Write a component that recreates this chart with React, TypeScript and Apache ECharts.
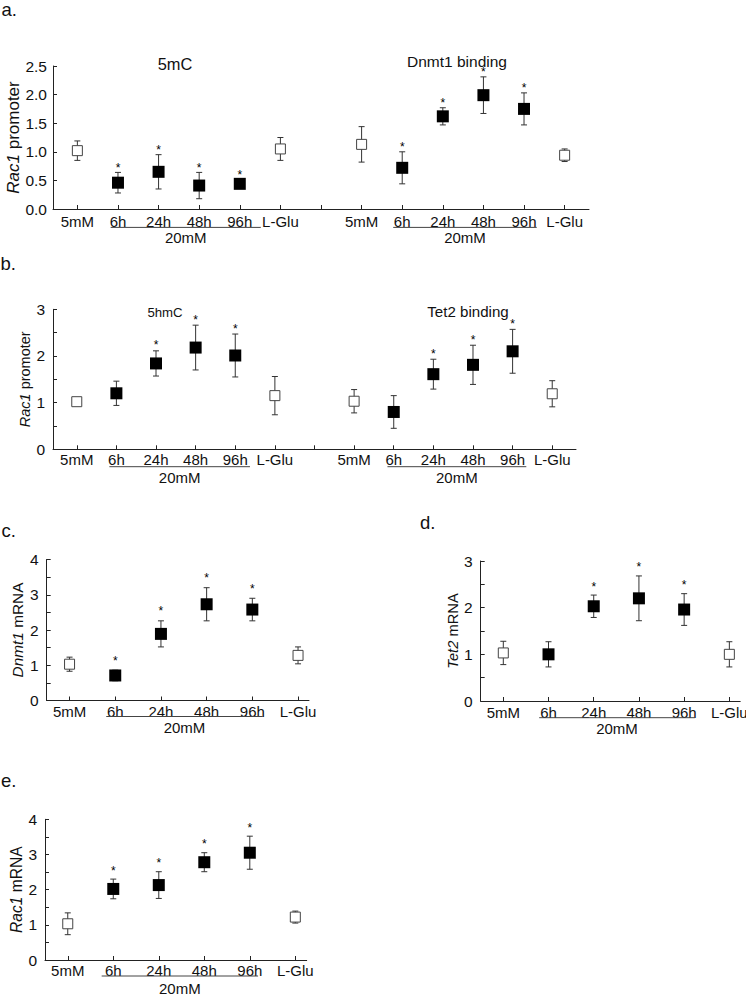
import React, { useEffect, useRef } from "react";
import * as echarts from "echarts";

const FONT = '"Liberation Sans", Arial, Helvetica, sans-serif';
const INK = "#111";
const AXIS = "#222";

// Category labels (per sub-chart)
const CATS = ["5mM", "6h", "24h", "48h", "96h", "L-Glu"];
const CONTROL_IDX = [0, 5];
const HG_IDX = [1, 2, 3, 4];

// a. Rac1 promoter — 5mC
const mC5_mean = [1.02, 0.46, 0.65, 0.41, 0.44, 1.05];
const mC5_err = [0.17, 0.18, 0.3, 0.23, 0.08, 0.2];
const mC5_sig = [0, 1, 1, 1, 1, 0];
// a. Rac1 promoter — Dnmt1 binding
const dnmt1Bind_mean = [1.13, 0.72, 1.62, 1.99, 1.75, 0.94];
const dnmt1Bind_err = [0.31, 0.28, 0.15, 0.32, 0.28, 0.11];
const dnmt1Bind_sig = [0, 1, 1, 1, 1, 0];
// b. Rac1 promoter — 5hmC
const hmC5_mean = [1.02, 1.2, 1.84, 2.18, 2.01, 1.15];
const hmC5_err = [0.04, 0.26, 0.27, 0.48, 0.46, 0.41];
const hmC5_sig = [0, 0, 1, 1, 1, 0];
// b. Rac1 promoter — Tet2 binding
const tet2Bind_mean = [1.03, 0.8, 1.61, 1.81, 2.1, 1.19];
const tet2Bind_err = [0.25, 0.35, 0.32, 0.42, 0.47, 0.28];
const tet2Bind_sig = [0, 0, 1, 1, 1, 0];
// c. Dnmt1 mRNA
const dnmt1Mrna_mean = [1.03, 0.71, 1.89, 2.73, 2.58, 1.28];
const dnmt1Mrna_err = [0.2, 0.15, 0.37, 0.47, 0.32, 0.24];
const dnmt1Mrna_sig = [0, 1, 1, 1, 1, 0];
// d. Tet2 mRNA
const tet2Mrna_mean = [1.03, 1.0, 2.03, 2.2, 1.96, 1.0];
const tet2Mrna_err = [0.25, 0.27, 0.24, 0.48, 0.34, 0.27];
const tet2Mrna_sig = [0, 0, 1, 1, 1, 0];
// e. Rac1 mRNA
const rac1Mrna_mean = [1.03, 2.02, 2.13, 2.78, 3.05, 1.22];
const rac1Mrna_err = [0.31, 0.28, 0.38, 0.27, 0.47, 0.17];
const rac1Mrna_sig = [0, 1, 1, 1, 1, 0];

type Sub = { offset: number; mean: number[]; err: number[]; sig: number[]; padL: number; padR: number };
type Panel = {
  grid: any;
  xMin: number;
  xMax: number;
  yMax: number;
  yDec: number;
  yName: [string, string];
  nameSize: number;
  nameGap: number;
  labelMargin: number;
  starGap: number;
  ulGap: number;
  txtGap: number;
  subs: Sub[];
};

const panels: Panel[] = [
  {
    grid: { left: 53, top: 66, width: 536, height: 143 },
    xMin: -0.6, xMax: 12.6, yMax: 2.5, yDec: 1,
    yName: ["Rac1", " promoter"], nameSize: 17, nameGap: 31,
    labelMargin: 4.5, starGap: 7, ulGap: 18.4, txtGap: 28,
    subs: [
      { offset: 0, mean: mC5_mean, err: mC5_err, sig: mC5_sig, padL: 7.3, padR: 21 },
      { offset: 7, mean: dnmt1Bind_mean, err: dnmt1Bind_err, sig: dnmt1Bind_sig, padL: 9, padR: 12.7 },
    ],
  },
  {
    grid: { left: 53, top: 309.3, width: 523, height: 140 },
    xMin: -0.6, xMax: 12.6, yMax: 3, yDec: 0,
    yName: ["Rac1", " promoter"], nameSize: 14.5, nameGap: 21,
    labelMargin: 3, starGap: 8, ulGap: 17.4, txtGap: 28,
    subs: [
      { offset: 0, mean: hmC5_mean, err: hmC5_err, sig: hmC5_sig, padL: 7, padR: 14.7 },
      { offset: 7, mean: tet2Bind_mean, err: tet2Bind_err, sig: tet2Bind_sig, padL: 6.3, padR: 13.7 },
    ],
  },
  {
    grid: { left: 46.7, top: 559.5, width: 262.3, height: 141 },
    xMin: -0.5, xMax: 5.24, yMax: 4, yDec: 0,
    yName: ["Dnmt1", " mRNA"], nameSize: 15.4, nameGap: 22,
    labelMargin: 3, starGap: 12, ulGap: 16, txtGap: 27.3,
    subs: [{ offset: 0, mean: dnmt1Mrna_mean, err: dnmt1Mrna_err, sig: dnmt1Mrna_sig, padL: 9, padR: 10.4 }],
  },
  {
    grid: { left: 480.7, top: 561, width: 259.5, height: 140 },
    xMin: -0.5, xMax: 5.24, yMax: 3, yDec: 0,
    yName: ["Tet2", " mRNA"], nameSize: 14.7, nameGap: 20.5,
    labelMargin: 3.5, starGap: 11, ulGap: 16.7, txtGap: 27,
    subs: [{ offset: 0, mean: tet2Mrna_mean, err: tet2Mrna_err, sig: tet2Mrna_sig, padL: 9.3, padR: 10.7 }],
  },
  {
    grid: { left: 45, top: 819.3, width: 261.7, height: 140.7 },
    xMin: -0.5, xMax: 5.25, yMax: 4, yDec: 0,
    yName: ["Rac1", " mRNA"], nameSize: 15.6, nameGap: 20.5,
    labelMargin: 3, starGap: 11, ulGap: 16, txtGap: 28,
    subs: [{ offset: 0, mean: rac1Mrna_mean, err: rac1Mrna_err, sig: rac1Mrna_sig, padL: 11.6, padR: 8.3 }],
  },
];

const titles = [
  { text: "5mC", x: 175, y: 64.2, size: 16.4 },
  { text: "Dnmt1 binding", x: 457, y: 61.5, size: 15.5 },
  { text: "5hmC", x: 165, y: 312.5, size: 13.2 },
  { text: "Tet2 binding", x: 468, y: 311.2, size: 15.1 },
];

const panelLetters = [
  { text: "a.", x: 1.5, y: 9.5 },
  { text: "b.", x: 0.5, y: 263.4 },
  { text: "c.", x: 1.5, y: 530 },
  { text: "d.", x: 420, y: 522.7 },
  { text: "e.", x: 1, y: 780.7 },
];

function buildOption() {
  const grid: any[] = [];
  const xAxis: any[] = [];
  const yAxis: any[] = [];
  const series: any[] = [];

  panels.forEach((p, gi) => {
    grid.push({ ...p.grid, containLabel: false, outerBoundsMode: "none" });
    const tickVals: number[] = [];
    const labelVals: number[] = [];
    const nPos = p.subs.length === 2 ? 13 : 6;
    for (let i = 0; i < nPos; i++) {
      tickVals.push(i);
      if (i % 7 !== 6) labelVals.push(i);
    }
    xAxis.push({
      gridIndex: gi,
      type: "value",
      min: p.xMin,
      max: p.xMax,
      splitLine: { show: false },
      axisLine: { show: true, onZero: false, lineStyle: { color: AXIS, width: 1 } },
      axisTick: { show: true, inside: true, length: 4, customValues: tickVals, lineStyle: { color: AXIS } },
      axisLabel: {
        customValues: labelVals,
        formatter: (v: number) => CATS[Math.round(v) % 7] ?? "",
        margin: p.labelMargin,
        fontSize: 15,
        fontFamily: FONT,
        color: INK,
        hideOverlap: false,
      },
    });
    yAxis.push({
      gridIndex: gi,
      type: "value",
      min: 0,
      max: p.yMax,
      interval: 0.5,
      splitLine: { show: false },
      axisLine: { show: true, onZero: false, lineStyle: { color: AXIS, width: 1 } },
      axisTick: { show: true, inside: true, length: 4, lineStyle: { color: AXIS } },
      axisLabel: {
        formatter: (v: number) =>
          p.yDec === 1 ? v.toFixed(1) : Math.abs(v - Math.round(v)) < 1e-6 ? String(Math.round(v)) : "",
        margin: p.yDec === 1 ? 6 : 8,
        fontSize: 15.5,
        fontFamily: FONT,
        color: INK,
      },
      name: `{i|${p.yName[0]}}${p.yName[1]}`,
      nameLocation: "middle",
      nameRotate: 90,
      nameGap: p.nameGap,
      nameMoveOverlap: false,
      nameTextStyle: {
        fontSize: p.nameSize,
        fontFamily: FONT,
        color: INK,
        rich: { i: { fontStyle: "italic", fontSize: p.nameSize, fontFamily: FONT, color: INK } },
      },
    });

    p.subs.forEach((s) => {
      const errData = s.mean.map((m, i) => [i + s.offset, m, s.err[i], s.sig[i]]);
      series.push({
        type: "custom",
        xAxisIndex: gi,
        yAxisIndex: gi,
        data: errData,
        z: 2,
        silent: true,
        clip: false,
        renderItem: (_params: any, api: any) => {
          const x = api.value(0);
          const m = api.value(1);
          const e = api.value(2);
          const sig = api.value(3);
          const top = api.coord([x, m + e]);
          const bot = api.coord([x, m - e]);
          const ls = { stroke: "#333", lineWidth: 1 };
          const children: any[] = [
            { type: "line", shape: { x1: top[0], y1: top[1], x2: bot[0], y2: bot[1] }, style: ls },
            { type: "line", shape: { x1: top[0] - 3, y1: top[1], x2: top[0] + 3, y2: top[1] }, style: ls },
            { type: "line", shape: { x1: bot[0] - 3, y1: bot[1], x2: bot[0] + 3, y2: bot[1] }, style: ls },
          ];
          if (sig) {
            children.push({
              type: "text",
              style: {
                text: "*",
                x: top[0],
                y: top[1] - p.starGap + 2.5,
                align: "center",
                verticalAlign: "middle",
                textAlign: "center",
                textVerticalAlign: "middle",
                fontSize: 12,
                fontFamily: FONT,
                fill: "#000",
              },
            });
          }
          return { type: "group", children };
        },
      });
      series.push({
        type: "scatter",
        xAxisIndex: gi,
        yAxisIndex: gi,
        symbol: "rect",
        symbolSize: 10,
        z: 3,
        silent: true,
        itemStyle: { color: "#fff", borderColor: "#444", borderWidth: 1, opacity: 1 },
        data: CONTROL_IDX.map((i) => [i + s.offset, s.mean[i]]),
      });
      series.push({
        type: "scatter",
        xAxisIndex: gi,
        yAxisIndex: gi,
        symbol: "rect",
        symbolSize: 12,
        z: 3,
        silent: true,
        itemStyle: { color: "#000", opacity: 1 },
        data: HG_IDX.map((i) => [i + s.offset, s.mean[i]]),
      });
      series.push({
        type: "custom",
        xAxisIndex: gi,
        yAxisIndex: gi,
        data: [[HG_IDX[0] + s.offset, HG_IDX[HG_IDX.length - 1] + s.offset]],
        silent: true,
        clip: false,
        renderItem: (_params: any, api: any) => {
          const a = api.coord([api.value(0), 0]);
          const b = api.coord([api.value(1), 0]);
          const x1 = a[0] - s.padL;
          const x2 = b[0] + s.padR;
          return {
            type: "group",
            children: [
              {
                type: "line",
                shape: { x1, y1: a[1] + p.ulGap, x2, y2: a[1] + p.ulGap },
                style: { stroke: "#444", lineWidth: 1 },
              },
              {
                type: "text",
                style: {
                  text: "20mM",
                  x: (x1 + x2) / 2,
                  y: a[1] + p.txtGap,
                  align: "center",
                  verticalAlign: "middle",
                  textAlign: "center",
                  textVerticalAlign: "middle",
                  fontSize: 15,
                  fontFamily: FONT,
                  fill: INK,
                },
              },
            ],
          };
        },
      });
    });
  });

  const graphic: any[] = [];
  titles.forEach((t) =>
    graphic.push({
      type: "text",
      x: t.x,
      y: t.y,
      style: {
        text: t.text,
        align: "center",
        verticalAlign: "middle",
        textAlign: "center",
        textVerticalAlign: "middle",
        fontSize: t.size,
        fontFamily: FONT,
        fill: INK,
      },
    })
  );
  panelLetters.forEach((t) =>
    graphic.push({
      type: "text",
      x: t.x,
      y: t.y,
      style: {
        text: t.text,
        align: "left",
        verticalAlign: "middle",
        textAlign: "left",
        textVerticalAlign: "middle",
        fontSize: 18.5,
        fontFamily: FONT,
        fill: INK,
      },
    })
  );

  return {
    animation: false,
    backgroundColor: "#fff",
    grid,
    xAxis,
    yAxis,
    series,
    graphic,
  };
}

export default function App() {
  const ref = useRef<HTMLDivElement>(null);
  useEffect(() => {
    if (!ref.current) return;
    const chart = echarts.init(ref.current, undefined, { renderer: "svg" });
    chart.setOption(buildOption() as any);
    return () => chart.dispose();
  }, []);
  return (
    <div
      ref={ref}
      style={{ position: "absolute", left: 0, top: 0, width: 746, height: 995, background: "#fff" }}
    />
  );
}
